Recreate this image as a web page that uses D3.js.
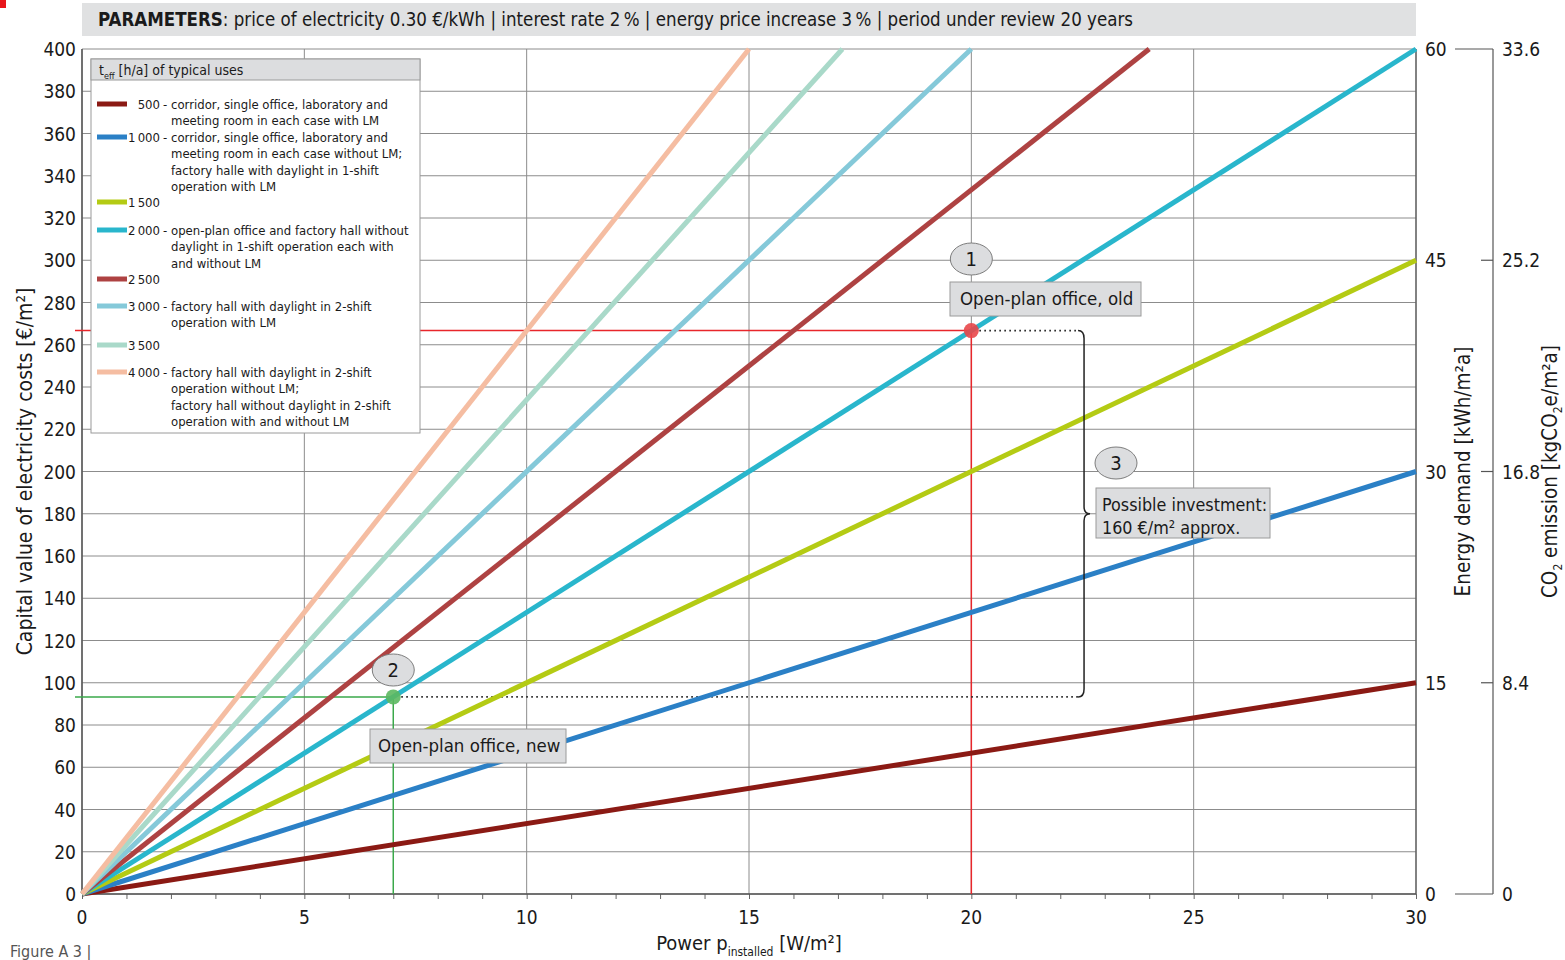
<!DOCTYPE html>
<html>
<head>
<meta charset="utf-8">
<script src="https://cdn.jsdelivr.net/npm/d3@7"></script>
<style>
    body { margin: 0; background: #fff; }
    svg text { font-family: 'Liberation Sans Narrow', 'DejaVu Sans Condensed', sans-serif; fill: #1a1a1a; }
</style>
</head>
<body>
<div id="chart"></div>
<script>
// effective operating hours per year of each curve
const teff = [500, 1000, 1500, 2000, 2500, 3000, 3500, 4000];
// where each curve ends (power W/m², capital value €/m²)
const endPower = [30, 30, 30, 30, 24, 20, 17.1, 15];
const endCost = [100, 200, 300, 400, 400, 400, 400, 400];
const lineColors = ['#8b1a14', '#2b80c6', '#b4cb14', '#29b6cc', '#ae4242', '#85c9d9', '#a9d9c9', '#f5bda2'];
const teffLabels = ['500', '1\u2009000', '1\u2009500', '2\u2009000', '2\u2009500', '3\u2009000', '3\u2009500', '4\u2009000'];
const legendText = [
    ['corridor, single office, laboratory and', 'meeting room in each case with LM'],
    ['corridor, single office, laboratory and', 'meeting room in each case without LM;', 'factory halle with daylight in 1-shift', 'operation with LM'],
    [],
    ['open-plan office and factory hall without', 'daylight in 1-shift operation each with', 'and without LM'],
    [],
    ['factory hall with daylight in 2-shift', 'operation with LM'],
    [],
    ['factory hall with daylight in 2-shift', 'operation without LM;', 'factory hall without daylight in 2-shift', 'operation with and without LM']
];
const energyTicks = [0, 15, 30, 45, 60];
const co2Ticks = [0, 8.4, 16.8, 25.2, 33.6];
// marked operating points
const oldOffice = { power: 20, cost: 266.7 };
const newOffice = { power: 7, cost: 93.3 };
const braceAt = 22.4;

const width = 1565,
    height = 960,
    margin = { top: 49, right: 149, bottom: 66, left: 82 };

const svg = d3.select('#chart').append('svg')
    .attr('width', width)
    .attr('height', height);

const x = d3.scaleLinear().domain([0, 30]).range([margin.left, width - margin.right]);
const y = d3.scaleLinear().domain([0, 400]).range([height - margin.bottom, margin.top]);
const yEnergy = d3.scaleLinear().domain([0, 60]).range(y.range());
const yCo2 = d3.scaleLinear().domain([0, 33.6]).range(y.range());

// little red marker in the corner
svg.append('rect').attr('x', 0).attr('y', 0).attr('width', 6).attr('height', 8).attr('fill', '#e8161b');

// parameter banner
svg.append('rect')
    .attr('x', x(0)).attr('y', 3)
    .attr('width', x(30) - x(0)).attr('height', 33)
    .attr('fill', '#e0e1e2');
const banner = svg.append('text').attr('x', 98).attr('y', 26).style('font-size', '18.6px')
    .attr('textLength', 1035).attr('lengthAdjust', 'spacingAndGlyphs');
banner.append('tspan').attr('font-weight', 'bold').text('PARAMETERS');
banner.append('tspan').text(': price of electricity 0.30 €/kWh | interest rate 2\u2009% | energy price increase 3\u2009% | period under review 20 years');

// grid
const grid = svg.append('g').attr('stroke', '#8c8c8c').attr('stroke-width', 1);
grid.selectAll('.h').data(y.ticks(20)).join('line')
    .attr('x1', x(0)).attr('x2', x(30))
    .attr('y1', d => y(d)).attr('y2', d => y(d));
grid.selectAll('.v').data(x.ticks(6)).join('line')
    .attr('x1', d => x(d)).attr('x2', d => x(d))
    .attr('y1', y(0)).attr('y2', y(400));

// bottom axis with minor ticks
svg.append('g')
    .attr('transform', `translate(0,${y(0)})`)
    .call(d3.axisBottom(x).ticks(30).tickSize(5).tickFormat(''))
    .call(g => g.select('.domain').remove())
    .call(g => g.selectAll('line').attr('stroke', '#666'));
svg.append('g')
    .selectAll('text').data(x.ticks(6)).join('text')
    .attr('x', d => x(d)).attr('y', 924)
    .attr('text-anchor', 'middle')
    .style('font-size', '19px')
    .text(d => d);

svg.append('g')
    .selectAll('text').data(y.ticks(20)).join('text')
    .attr('x', 76).attr('y', d => y(d) + 7)
    .attr('text-anchor', 'end')
    .style('font-size', '19px')
    .text(d => d);

// frame
svg.append('line').attr('x1', x(0)).attr('x2', x(30)).attr('y1', y(0)).attr('y2', y(0)).attr('stroke', '#555').attr('stroke-width', 1.5);
svg.append('line').attr('x1', x(0)).attr('x2', x(0)).attr('y1', y(0)).attr('y2', y(400)).attr('stroke', '#555').attr('stroke-width', 1.5);
svg.append('line').attr('x1', x(30)).attr('x2', x(30)).attr('y1', y(0)).attr('y2', y(400)).attr('stroke', '#555').attr('stroke-width', 1.2);

// right axes: energy demand and CO2 emission
svg.append('g').selectAll('text').data(energyTicks).join('text')
    .attr('x', x(30) + 9).attr('y', d => yEnergy(d) + 7)
    .style('font-size', '19px')
    .text(d => d);
const co2X = 1493;
svg.append('line').attr('x1', co2X).attr('x2', co2X).attr('y1', yCo2(0)).attr('y2', yCo2(33.6)).attr('stroke', '#555').attr('stroke-width', 1.2);
svg.append('g').selectAll('line').data(co2Ticks).join('line')
    .attr('x1', d => (d === 0 || d === 33.6) ? 1455 : 1481).attr('x2', co2X)
    .attr('y1', d => yCo2(d)).attr('y2', d => yCo2(d))
    .attr('stroke', '#555').attr('stroke-width', 1.2);
svg.append('g').selectAll('text').data(co2Ticks).join('text')
    .attr('x', co2X + 9).attr('y', d => yCo2(d) + 7)
    .style('font-size', '19px')
    .text(d => d === 0 ? '0' : d.toFixed(1));

// axis titles
svg.append('text')
    .attr('transform', `translate(32,${(y(0) + y(400)) / 2}) rotate(-90)`)
    .attr('text-anchor', 'middle').style('font-size', '21px')
    .text('Capital value of electricity costs [€/m²]');
svg.append('text')
    .attr('transform', `translate(1470,${(y(0) + y(400)) / 2}) rotate(-90)`)
    .attr('text-anchor', 'middle').style('font-size', '20.5px')
    .text('Energy demand [kWh/m²a]');
const co2Title = svg.append('text')
    .attr('transform', `translate(1557,${(y(0) + y(400)) / 2}) rotate(-90)`)
    .attr('text-anchor', 'middle').style('font-size', '20.5px');
co2Title.append('tspan').text('CO');
co2Title.append('tspan').attr('dy', 5).style('font-size', '12px').text('2');
co2Title.append('tspan').attr('dy', -5).text(' emission [kgCO');
co2Title.append('tspan').attr('dy', 5).style('font-size', '12px').text('2');
co2Title.append('tspan').attr('dy', -5).text('e/m²a]');

const xTitle = svg.append('text').attr('x', 749).attr('y', 950).attr('text-anchor', 'middle').style('font-size', '20px');
xTitle.append('tspan').text('Power p');
xTitle.append('tspan').attr('dy', 6).style('font-size', '12px').text('installed');
xTitle.append('tspan').attr('dy', -6).text(' [W/m²]');

svg.append('text').attr('x', 10).attr('y', 957).style('font-size', '16px').style('fill', '#555').text('Figure A 3 |');

// guide lines for the two operating points
const guides = [
    { p: oldOffice, color: '#e8262b' },
    { p: newOffice, color: '#3aa84a' }
];
guides.forEach(g => {
    svg.append('line').attr('x1', 75).attr('x2', x(g.p.power))
        .attr('y1', y(g.p.cost)).attr('y2', y(g.p.cost))
        .attr('stroke', g.color).attr('stroke-width', 1.5);
    svg.append('line').attr('x1', x(g.p.power)).attr('x2', x(g.p.power))
        .attr('y1', y(0)).attr('y2', y(g.p.cost))
        .attr('stroke', g.color).attr('stroke-width', 1.5);
    svg.append('line').attr('x1', x(g.p.power) + 8).attr('x2', x(braceAt))
        .attr('y1', y(g.p.cost)).attr('y2', y(g.p.cost))
        .attr('stroke', '#222').attr('stroke-width', 1.6).attr('stroke-dasharray', '1.6,3.4');
});

// curves
svg.append('g').selectAll('line').data(teff).join('line')
    .attr('x1', x(0)).attr('y1', y(0))
    .attr('x2', (d, i) => x(endPower[i]))
    .attr('y2', (d, i) => y(endCost[i]))
    .attr('stroke', (d, i) => lineColors[i])
    .attr('stroke-width', 5);

// points
svg.append('circle').attr('cx', x(oldOffice.power)).attr('cy', y(oldOffice.cost)).attr('r', 7.5).attr('fill', '#e8474a').attr('opacity', 0.9);
svg.append('circle').attr('cx', x(newOffice.power)).attr('cy', y(newOffice.cost)).attr('r', 7.5).attr('fill', '#5cb860').attr('opacity', 0.9);

// brace
const bx = x(braceAt), bTop = y(oldOffice.cost), bBot = y(newOffice.cost), bMid = (bTop + bBot) / 2;
svg.append('path')
    .attr('d', `M${bx},${bTop} Q${bx + 6},${bTop} ${bx + 6},${bTop + 8} L${bx + 6},${bMid - 7} Q${bx + 6},${bMid} ${bx + 12},${bMid}
        Q${bx + 6},${bMid} ${bx + 6},${bMid + 7} L${bx + 6},${bBot - 8} Q${bx + 6},${bBot} ${bx},${bBot}`)
    .attr('fill', 'none').attr('stroke', '#222').attr('stroke-width', 1.5);

// callouts
function bubble(cx, cy, label) {
    svg.append('ellipse').attr('cx', cx).attr('cy', cy).attr('rx', 21).attr('ry', 16)
        .attr('fill', '#dcdddf').attr('stroke', '#7d7d7d').attr('stroke-width', 1);
    svg.append('text').attr('x', cx).attr('y', cy + 7).attr('text-anchor', 'middle').style('font-size', '20px').text(label);
}
function box(bxX, bxY, w, h, lines, fs, pad) {
    svg.append('rect').attr('x', bxX).attr('y', bxY).attr('width', w).attr('height', h)
        .attr('fill', '#dcdddf').attr('stroke', '#9a9a9a').attr('stroke-width', 1);
    lines.forEach((t, i) => {
        svg.append('text').attr('x', bxX + pad).attr('y', bxY + 23 + i * 23).style('font-size', fs + 'px').text(t);
    });
}
bubble(x(oldOffice.power), 259, '1');
box(950, 282, 191, 34, ['Open-plan office, old'], 18.5, 10);
bubble(x(newOffice.power), 670, '2');
box(370, 729, 196, 34, ['Open-plan office, new'], 18.5, 8);
bubble(1116, 463, '3');
box(1096, 488, 174, 50, ['Possible investment:', '160 €/m² approx.'], 17.8, 6);

// legend
const lg = svg.append('g');
lg.append('rect').attr('x', 91).attr('y', 59).attr('width', 329).attr('height', 374)
    .attr('fill', '#fff').attr('stroke', '#9a9a9a').attr('stroke-width', 1);
lg.append('rect').attr('x', 91).attr('y', 59).attr('width', 329).attr('height', 21)
    .attr('fill', '#dcdddf').attr('stroke', '#9a9a9a').attr('stroke-width', 1);
const lh = lg.append('text').attr('x', 99).attr('y', 75).style('font-size', '14px');
lh.append('tspan').text('t');
lh.append('tspan').attr('dy', 4).style('font-size', '9px').text('eff');
lh.append('tspan').attr('dy', -4).text(' [h/a] of typical uses');

const legendY = [104, 137, 202, 230, 279, 306, 345, 372];
teff.forEach((t, i) => {
    const ly = legendY[i];
    lg.append('line').attr('x1', 97).attr('x2', 127).attr('y1', ly).attr('y2', ly)
        .attr('stroke', lineColors[i]).attr('stroke-width', 5);
    lg.append('text').attr('x', 160).attr('y', ly + 5).attr('text-anchor', 'end')
        .style('font-size', '13px').text(teffLabels[i]);
    legendText[i].forEach((s, j) => {
        if (j === 0) {
            lg.append('text').attr('x', 163).attr('y', ly + 5).style('font-size', '13px').text('-');
        }
        lg.append('text').attr('x', 171).attr('y', ly + 5 + j * 16.3).style('font-size', '13px').text(s);
    });
});
</script>
</body>
</html>
